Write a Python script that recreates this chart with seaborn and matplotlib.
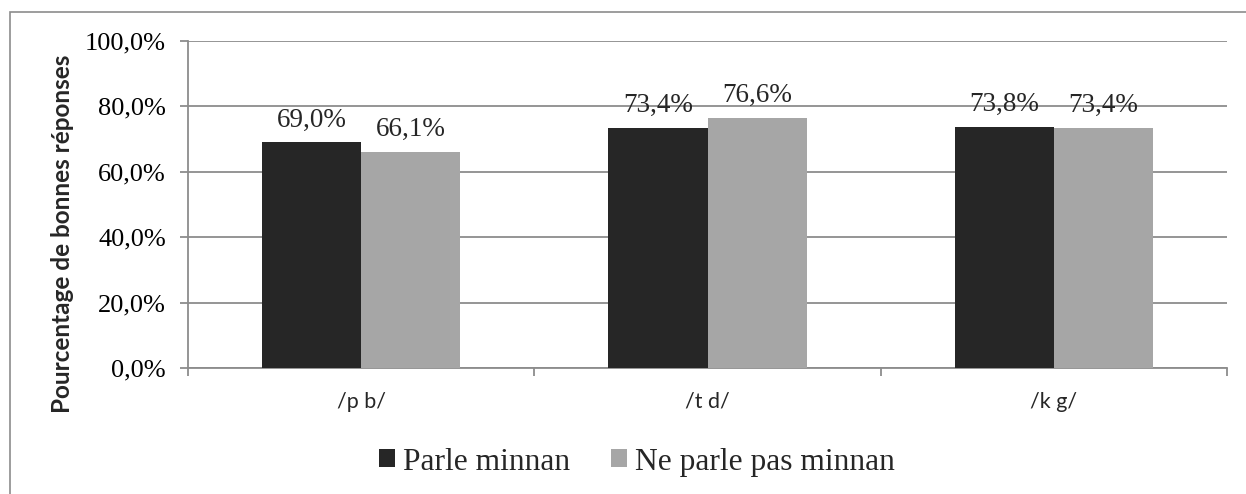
import matplotlib
matplotlib.use("Agg")
import matplotlib.pyplot as plt
import seaborn as sns
import pandas as pd
from matplotlib.patches import Rectangle
from matplotlib.ticker import FuncFormatter, FixedLocator

# data
categories = ["/p b/", "/t d/", "/k g/"]
groups = ["Parle minnan", "Ne parle pas minnan"]
parle = [69.0, 73.4, 73.8]
ne_parle = [66.1, 76.6, 73.4]

df = pd.DataFrame({
    "cat": categories * 2,
    "groupe": [groups[0]] * 3 + [groups[1]] * 3,
    "pct": parle + ne_parle,
})

sns.set_theme(style="white")
plt.rcParams["font.family"] = ["Liberation Serif", "DejaVu Serif"]

fig = plt.figure(figsize=(12.46, 4.94), dpi=100)
ax = fig.add_axes([0.1509, 0.2551, 0.9848 - 0.1509, 0.917 - 0.2551])

# outer frame like the Excel chart area
fig.patches.append(Rectangle((10 / 1246, -0.01), 1.1, 1 - 12 / 494 + 0.01,
                             transform=fig.transFigure, fill=False,
                             edgecolor="#8c8c8c", linewidth=1.2, zorder=0))

sns.barplot(data=df, x="cat", y="pct", hue="groupe", ax=ax,
            palette=["#262626", "#a6a6a6"], width=0.572, saturation=1,
            edgecolor="none", linewidth=0, zorder=3)

ax.set_xlim(-0.5, 2.5)
ax.set_ylim(0, 100)
ax.set_yticks([0, 20, 40, 60, 80, 100])
ax.yaxis.set_major_formatter(FuncFormatter(lambda v, p: f"{v:.1f}%".replace(".", ",")))
ax.grid(axis="y", color="#8c8c8c", linewidth=1.3, zorder=0)
ax.set_axisbelow(True)

for s in ["top", "right"]:
    ax.spines[s].set_visible(False)
for s in ["left", "bottom"]:
    ax.spines[s].set_color("#8c8c8c")
    ax.spines[s].set_linewidth(1.3)

ax.tick_params(axis="y", direction="out", length=6, width=1.3, color="#8c8c8c",
               labelsize=19, pad=10, left=True)
# x ticks at category boundaries, labels centred on categories
ax.xaxis.set_major_locator(FixedLocator([0, 1, 2]))
ax.xaxis.set_minor_locator(FixedLocator([-0.5, 0.5, 1.5, 2.5]))
ax.tick_params(axis="x", which="major", length=0, pad=17)
ax.tick_params(axis="x", which="minor", direction="out", length=6, width=1.3,
               color="#8c8c8c", bottom=True)
ax.set_xticklabels(categories, family=["Lato", "DejaVu Sans"], fontsize=15.5)
for lab in ax.get_yticklabels():
    lab.set_color("black")

ax.set_xlabel("")
ax.set_ylabel("Pourcentage de bonnes réponses", family=["Lato", "DejaVu Sans"],
              fontsize=17.5, fontweight="bold")
ax.yaxis.set_label_coords(-0.1095, 0.41)

for cont in ax.containers:
    ax.bar_label(cont, labels=[f"{v:.1f}%".replace(".", ",") for v in cont.datavalues],
                 padding=7, fontsize=19.5)

handles, labels = ax.get_legend_handles_labels()
ax.legend_.remove()
fig.legend(handles, labels, loc="center", bbox_to_anchor=(637 / 1246, 1 - 462 / 494),
           ncol=2, frameon=False, fontsize=22.7, handlelength=0.5, handleheight=0.5,
           handletextpad=0.25, columnspacing=1.3)

fig.savefig("out.png", dpi=100)
